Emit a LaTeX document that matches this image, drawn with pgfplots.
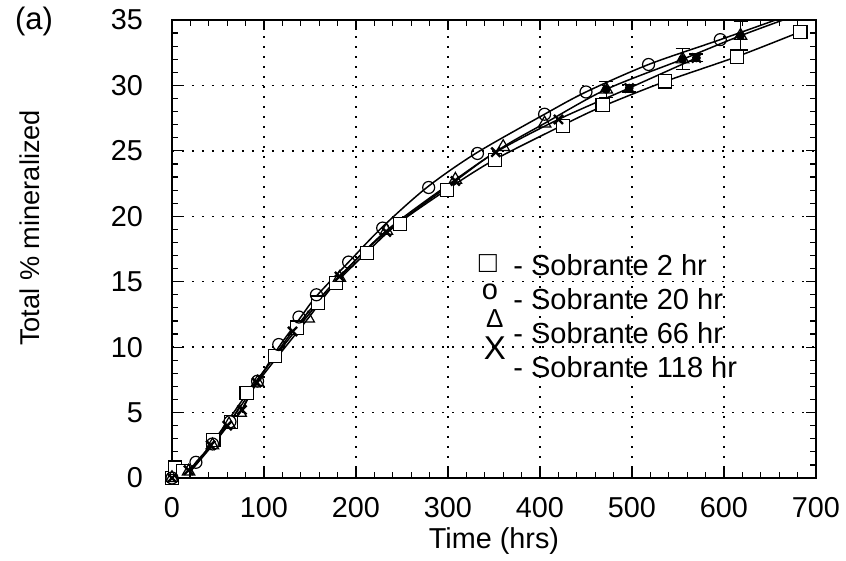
\documentclass[border=0pt]{standalone}
\usepackage{pgfplots}
\pgfplotsset{compat=1.18}
\usepackage{fontspec}
\setmainfont{Liberation Sans}
\begin{document}
\begin{tikzpicture}
\useasboundingbox (-86pt,-41.5pt) rectangle (337pt,239pt);
\begin{axis}[
  at={(0,0)}, anchor=south west,
  width=322pt, height=229pt, scale only axis,
  xmin=0, xmax=700, ymin=0, ymax=35,
  xtick distance=100, ytick distance=5,
  minor x tick num=4, minor y tick num=4,
  tick align=inside,
  major tick length=5pt, minor tick length=3pt,
  tick style={black, line width=0.6pt},
  axis line style={line width=0.8pt},
  grid=major,
  major grid style={black, line width=0.7pt, dash pattern=on 1.2pt off 3.8pt},
  /pgf/number format/assume math mode=true,
  ticklabel style={font=\fontsize{14.4}{16}\selectfont},
  yticklabel style={xshift=-11pt},
  xticklabel style={yshift=-6pt},
  every axis x label/.style={at={(axis description cs:0.5,0)}, anchor=center, yshift=-31.5pt},
  every axis y label/.style={at={(axis description cs:0,0.546)}, anchor=center, xshift=-71pt, rotate=90},
  xlabel style={font=\fontsize{14.4}{16}\selectfont},
  ylabel style={font=\fontsize{13.6}{16}\selectfont},
  xlabel={Time (hrs)},
  ylabel={Total \% mineralized},
  clip=true,
]
% fitted curves
\addplot[black, line width=0.75pt, smooth] coordinates {(14,0) (45,2.8) (81,6.4) (112,9.3) (136,11.4) (158,13.3) (178,14.9) (211,17.2) (245,19.4) (298,22.0) (350,24.3) (423,26.9) (468,28.4) (536,30.3) (614,32.2) (683,34.1)};
\addplot[black, line width=0.75pt, smooth] coordinates {(14,0) (26,1.2) (44,2.6) (63,4.3) (93,7.4) (116,10.0) (139,12.2) (157,13.9) (192,16.5) (229,19.2) (277,22.2) (330,24.8) (405,27.8) (450,29.5) (518,31.6) (596,33.5) (680,35.6)};
\addplot[black, line width=0.75pt, smooth] coordinates {(14,0) (44,2.5) (62,4.1) (74,5.0) (93,7.3) (148,12.2) (182,15.3) (233,18.9) (308,22.8) (360,25.3) (405,27.1) (472,29.7) (555,32.0) (618,33.8) (680,35.4)};
\addplot[black, line width=0.75pt, smooth] coordinates {(14,0) (42,2.5) (60,4.0) (76,5.2) (92,7.3) (131,11.2) (182,15.4) (233,18.8) (308,22.7) (352,24.9) (420,27.4) (497,29.8) (570,32.1)};
% error bars
\addplot[only marks, mark=none, error bars/.cd, y dir=both, y explicit,
  error bar style={black, line width=0.6pt},
  error mark options={rotate=90, mark size=3.5pt, black, line width=0.6pt}]
  coordinates {(472,29.7) +- (0,0.6) (555,32.0) +- (0,0.8) (618,33.8) +- (0,1.1) (497,29.8) +- (0,0.3) (570,32.1) +- (0,0.3)};
% markers
\addplot[only marks, mark=square*, mark size=3.3pt, mark options={fill=white, draw=black, line width=0.6pt}] coordinates {(0,0) (3,0.8) (12,0.5) (45,2.9) (64,4.3) (81,6.5) (112,9.3) (136,11.5) (159,13.4) (178,14.9) (212,17.2) (248,19.4) (299,22.0) (351,24.3) (425,26.9) (468,28.5) (536,30.3) (614,32.2) (683,34.1)};
\addplot[only marks, mark=o, mark size=3pt, mark options={draw=black, line width=0.6pt}] coordinates {(0,0) (26,1.2) (44,2.6) (63,4.3) (93,7.4) (116,10.2) (138,12.3) (157,14.0) (192,16.5) (229,19.1) (279,22.2) (332,24.8) (405,27.8) (450,29.5) (518,31.6) (596,33.5)};
\addplot[only marks, mark=triangle, mark size=3.6pt, mark options={draw=black, line width=0.6pt}] coordinates {(0,0) (18,0.5) (44,2.5) (62,4.1) (74,5.0) (93,7.3) (148,12.2) (182,15.3) (233,18.9) (308,22.8) (360,25.3) (405,27.1) (472,29.7) (555,32.0) (618,33.8)};
\addplot[only marks, mark=x, mark size=3.2pt, mark options={draw=black, line width=1.2pt}] coordinates {(0,0) (18,0.6) (42,2.5) (60,4.0) (76,5.2) (92,7.3) (131,11.2) (182,15.4) (233,18.8) (308,22.7) (352,24.9) (420,27.4) (497,29.8) (570,32.1)};
% legend text
\node[anchor=west, font=\fontsize{14.5}{16}\selectfont, inner sep=0pt] at (axis cs:370.7,16.28) {- Sobrante 2 hr};
\node[anchor=west, font=\fontsize{14.5}{16}\selectfont, inner sep=0pt] at (axis cs:370.7,13.68) {- Sobrante 20 hr};
\node[anchor=west, font=\fontsize{14.5}{16}\selectfont, inner sep=0pt] at (axis cs:370.7,11.08) {- Sobrante 66 hr};
\node[anchor=west, font=\fontsize{14.5}{16}\selectfont, inner sep=0pt] at (axis cs:370.7,8.48) {- Sobrante 118 hr};
\node[font=\fontsize{15}{16}\selectfont, inner sep=0pt] at (axis cs:343.5,16.4) {□};
\node[font=\fontsize{14.5}{16}\selectfont, inner sep=0pt] at (axis cs:345.7,14.25) {o};
\node[font=\fontsize{13}{16}\selectfont, inner sep=0pt] at (axis cs:351,12.2) {Δ};
\node[font=\fontsize{16.5}{16}\selectfont, inner sep=0pt] at (axis cs:351,9.93) {X};
\end{axis}
\node[font=\fontsize{15.5}{17}\selectfont] at (-69pt,228.5pt) {(a)};
\end{tikzpicture}
\end{document}
